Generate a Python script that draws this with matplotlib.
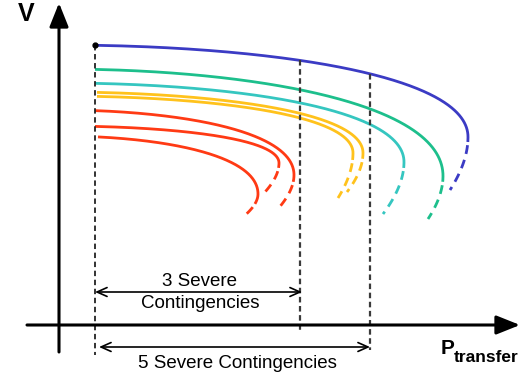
import numpy as np
import matplotlib.pyplot as plt

plt.rcParams['font.family'] = ['Liberation Sans', 'DejaVu Sans']

# PV (nose) curves: start of load, voltage at P=0, nose point,
# voltage where the drawn solid part stops, last point on the unstable branch
curve_names = ['base', 'c1', 'c2', 'c3a', 'c3b', 'c4a', 'c4b', 'c4c']
curve_colors = ['#3b3bc4', '#1dbf8c', '#35c6c0', '#ffc21c', '#ffc21c', '#ff3a14', '#ff3a14', '#ff3a14']
p_start = [35, 35, 35, 37, 37, 35, 35, 38]
v_zero = [280, 256, 242, 233, 229, 215, 199, 189]
p_nose = [408, 383, 344, 303, 293, 234, 219, 198]
v_nose = [188, 149, 163, 172, 172, 150, 162, 131]
v_solid = [183, 143, 157, 166, 165, 143, 157, 121]
p_end = [390, 368, 323, 287, 278, 217, 205, 183]
v_end = [135, 106, 111, 133, 127, 115, 133, 108]

# transfer limits marked on the base-case curve
p_base = 35
p_limit_3 = 240
p_limit_5 = 310


def nose_curve(p0, v0, pn, vn, pe, ve, n=300):
    # two-bus curve p = v*sqrt(1-v^2), rescaled so its nose sits at (pn, vn)
    r = 1 / np.sqrt(2)
    s = 0.5 * p0 / pn
    v_a = np.sqrt((1 + np.sqrt(1 - 4 * s ** 2)) / 2)
    e = 0.5 * pe / pn
    v_b = np.sqrt((1 - np.sqrt(1 - 4 * e ** 2)) / 2)
    up = np.linspace(v_a, r, n)
    low = np.linspace(r, v_b, n // 2)[1:]
    p = pn * 2 * np.concatenate([up, low]) * np.sqrt(1 - np.concatenate([up, low]) ** 2)
    v_up = vn + (v0 - vn) * (up - r) / (1 - r)
    v_low = vn - (vn - ve) * (r - low) / (r - v_b)
    return p, np.concatenate([v_up, v_low])


fig = plt.figure(figsize=(5.2, 3.72), dpi=100)
ax = fig.add_axes([0, 0, 1, 1])
ax.set_xlim(-60, 460)
ax.set_ylim(-47, 325)
ax.axis('off')

# axes with arrow heads
axis_arrow = dict(arrowstyle='-|>,head_length=0.8,head_width=0.32', lw=2.2, color='black',
                  shrinkA=0, shrinkB=0, mutation_scale=18)
ax.annotate('', xy=(460, 0), xytext=(-33, 0), arrowprops=axis_arrow)
ax.annotate('', xy=(-1, 322), xytext=(-1, -27), arrowprops=axis_arrow)

for i in range(len(curve_names)):
    p, v = nose_curve(p_start[i], v_zero[i], p_nose[i], v_nose[i], p_end[i], v_end[i])
    k = np.argmax(p)
    solid = np.ones_like(p, dtype=bool)
    solid[k:] = v[k:] >= v_solid[i]
    dashed = np.zeros_like(solid)
    dashed[k:] = v[k:] < v_solid[i] - 3
    ax.plot(p[solid], v[solid], color=curve_colors[i], lw=2.0, solid_capstyle='butt')
    ax.plot(p[dashed], v[dashed], color=curve_colors[i], lw=2.0, dashes=(3.2, 2.2))

# limit lines down from the base curve
p, v = nose_curve(p_start[0], v_zero[0], p_nose[0], v_nose[0], p_end[0], v_end[0])
k = np.argmax(p)
v_at = lambda x: np.interp(x, p[:k], v[:k])
ax.plot([p_base, p_base], [v_at(p_base), -30], color='#222222', lw=1.3, dashes=(3, 2))
ax.plot([p_limit_3, p_limit_3], [v_at(p_limit_3), -5], color='#3a3a3a', lw=1.6, dashes=(2.5, 1.6))
ax.plot([p_limit_5, p_limit_5], [v_at(p_limit_5), -25], color='#3a3a3a', lw=1.6, dashes=(2.5, 1.6))
ax.plot([p_base], [v_at(p_base)], 'o', color='black', ms=3.5)

# contingency spans
span = dict(arrowstyle='<->,head_length=0.45,head_width=0.2', lw=1.2, color='black',
            shrinkA=0, shrinkB=0, mutation_scale=16)
ax.annotate('', xy=(p_base, 33), xytext=(p_limit_3 + 2, 33), arrowprops=span)
ax.annotate('', xy=(p_base + 4, -22), xytext=(p_limit_5, -22), arrowprops=span)
ax.text(140, 43, '3 Severe', ha='center', va='center', fontsize=13.5)
ax.text(140, 21, 'Contingencies', ha='center', va='center', fontsize=13.5)
ax.text(177, -38, '5 Severe Contingencies', ha='center', va='center', fontsize=13.5)

# axis labels
ax.text(-34, 311, 'V', ha='center', va='center', fontsize=18, fontweight='bold')
ax.text(381, -29, 'P', ha='left', va='baseline', fontsize=15, fontweight='bold')
ax.text(394, -37, 'transfer', ha='left', va='baseline', fontsize=12.5, fontweight='bold')

fig.savefig('out.png', dpi=100)
